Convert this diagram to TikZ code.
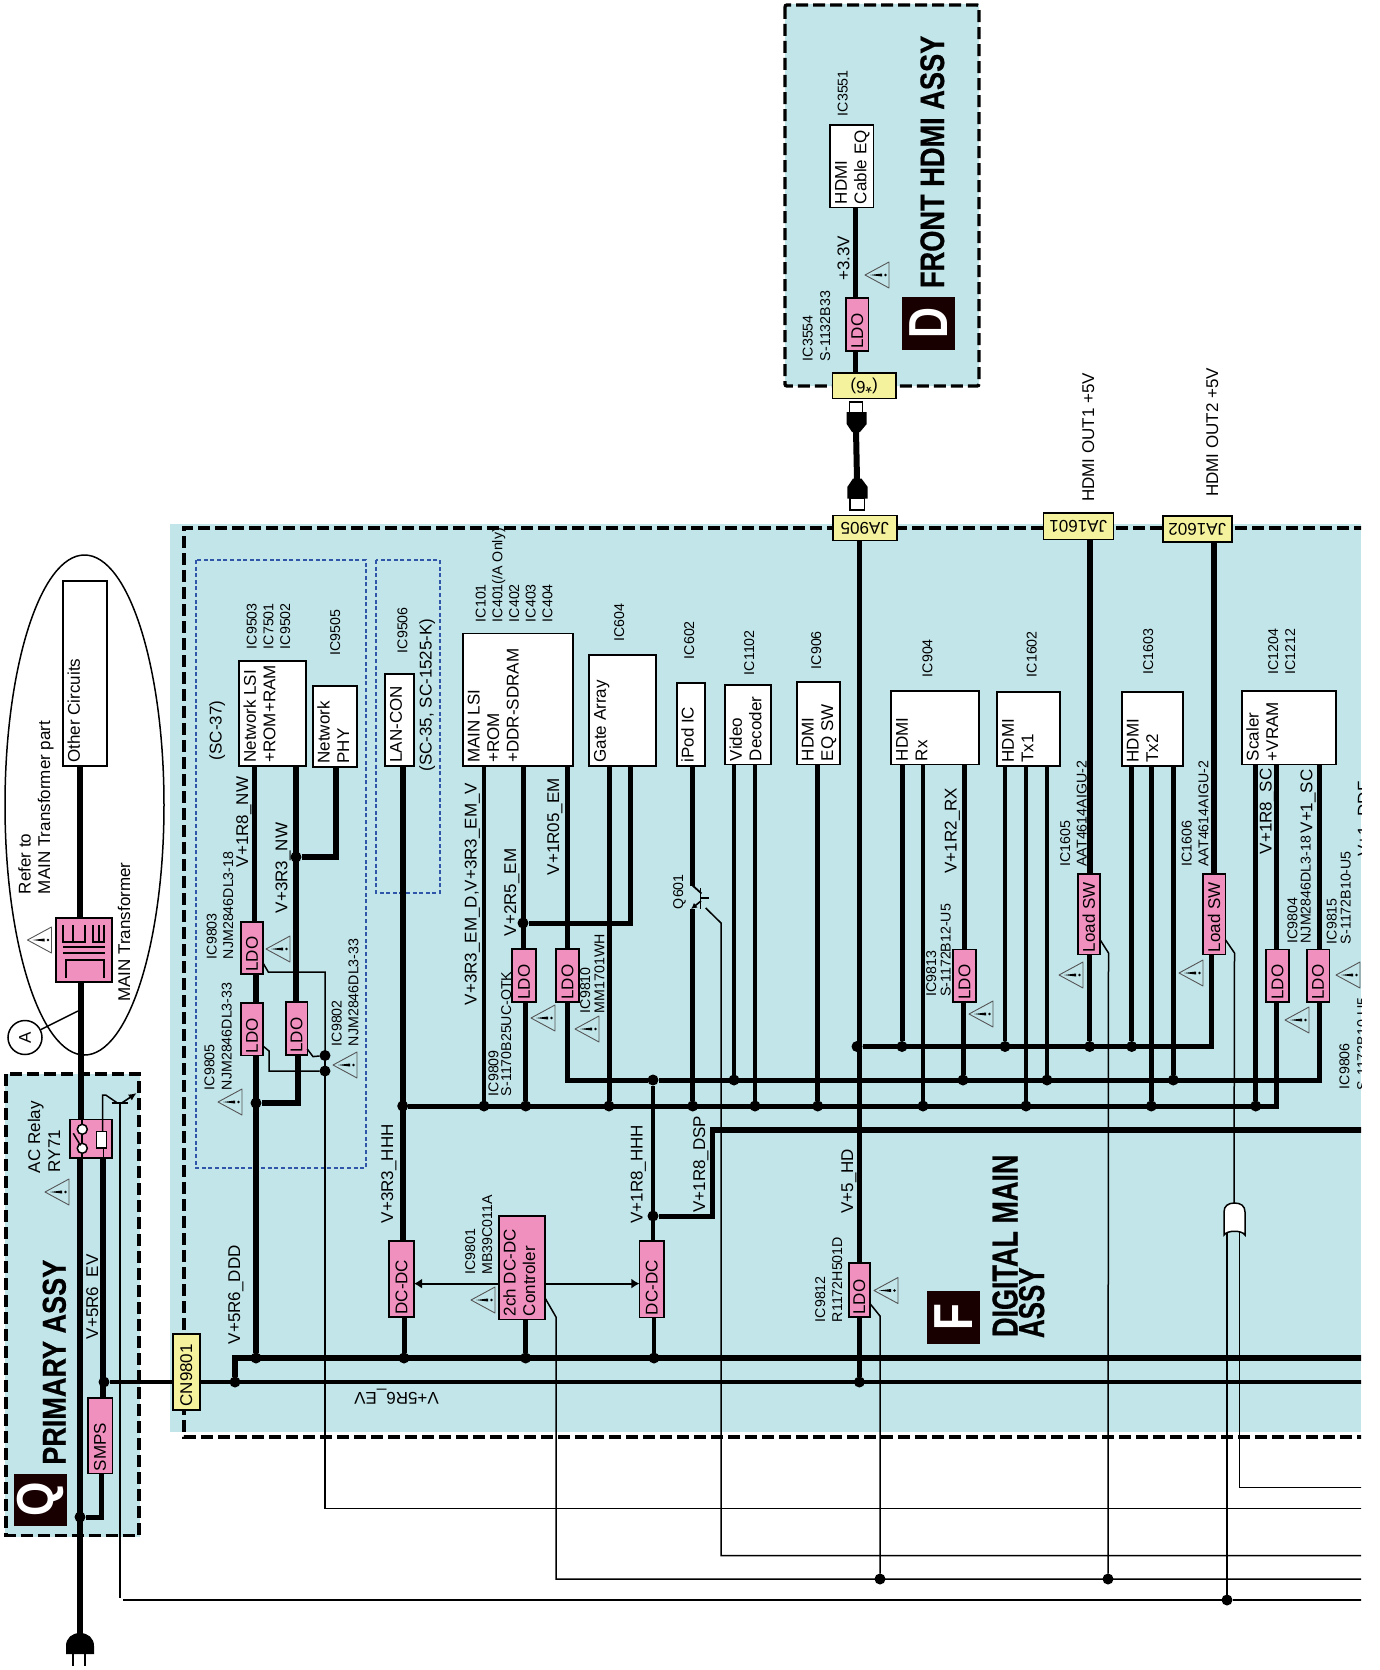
\documentclass[tikz,border=0pt]{standalone}
\usepackage{fontspec}
\setmainfont{Liberation Sans}
\newfontfamily\titlefont{Liberation Sans}[UprightFont=* Bold,FakeBold=0.6]
\usetikzlibrary{arrows.meta}
\definecolor{assyteal}{HTML}{C2E5EA}
\definecolor{ldopink}{HTML}{F090BE}
\definecolor{connyellow}{HTML}{F5F29E}
\definecolor{optblue}{HTML}{2F56A8}
\definecolor{warngray}{HTML}{555555}
\newcommand{\boxtxt}[3]{\rotatebox{90}{\parbox[c][#2pt][t]{#1pt}{\raggedright\leftskip=3.5pt\relax\leavevmode\rule{0pt}{16.8pt}\ignorespaces#3}}}
\newcommand{\pinktxt}[2]{\rotatebox{90}{\makebox[#1pt][l]{\hspace{2.5pt}#2}}}
\newcommand{\condtxt}[2]{\scalebox{#1}[1]{#2}}
\tikzset{
  t17/.style={font=\fontsize{17}{19.5}\selectfont},
  t14/.style={font=\fontsize{14.2}{16}\selectfont},
  boxbase/.style={draw=black,line width=1.6pt,inner sep=0pt,outer sep=0pt,t17},
  icbox/.style={boxbase,fill=white},
  pinkbox/.style={boxbase,fill=ldopink},
  connbox/.style={boxbase,fill=connyellow},
  logobox/.style={fill=black!90!red,inner sep=0pt,outer sep=0pt,text=white},
  dotn/.style={circle,fill=black,inner sep=0pt,outer sep=0pt,minimum size=11pt},
  lab/.style={rotate=90,anchor=base west,inner sep=0pt,outer sep=0pt,t17},
  labs/.style={rotate=90,anchor=base west,inner sep=0pt,outer sep=0pt,t14},
  pw/.style={line width=5pt},
  bus/.style={line width=6pt},
  busthin/.style={line width=3.6pt},
  sig/.style={line width=1.5pt},
  ctlarrow/.style={line width=1.8pt,-{Latex[length=8pt,width=10pt]}},
  assyframe/.style={draw=black,line width=3.4pt,dash pattern=on 12pt off 5pt},
  optframe/.style={draw=optblue,line width=1.4pt,dash pattern=on 4pt off 2.6pt},
  warntri/.pic={
    \draw[warngray,line width=0.9pt,line join=round] (-12,0) -- (12,-13) -- (12,13) -- cycle;
    \fill[black] (-7,0) -- (5,-1.5) -- (5,1.5) -- cycle;
    \fill[black] (8.5,0) circle (1.4pt);
  }
}
\begin{document}
\begin{tikzpicture}[x=1pt,y=-1pt]
\useasboundingbox (0,0) rectangle (1380,1670);
\begin{scope}
\clip (0,0) rectangle (1361,1670);
% assemblies
\fill[assyteal] (170,524) rectangle (1361,1431.6);
\fill[assyteal] (5,1073.6) rectangle (140,1536.6);
\fill[assyteal,rounded corners=2pt] (785,4) rectangle (979,386);
\draw[assyframe] (1400,528) -- (184,528) -- (184,1437) -- (1400,1437);
\draw[assyframe] (6,1074) rectangle (139,1535.5);
\draw[assyframe,rounded corners=2pt] (785,5) rectangle (979,386);
\draw[optframe] (196,560) rectangle (366,1168);
\draw[optframe] (376,560) rectangle (440,893);
\draw[line width=1.5pt] (84.5,805) ellipse [x radius=79.5pt,y radius=250pt];
% ICs
\node[icbox,minimum width=44pt,minimum height=185pt] (other) at (85,673.5) {\boxtxt{185}{44}{Other Circuits}};
\node[icbox,minimum width=67pt,minimum height=105pt] (nlsi) at (272.5,713.5) {\boxtxt{105}{67}{Network LSI\\+ROM+RAM}};
\node[icbox,minimum width=44.3pt,minimum height=81pt] (nphy) at (334.85,726.5) {\boxtxt{81}{44.3}{Network\\PHY}};
\node[icbox,minimum width=29pt,minimum height=92pt] (lancon) at (399.5,720) {\boxtxt{92}{29}{LAN-CON}};
\node[icbox,minimum width=110pt,minimum height=132.6pt] (mainlsi) at (517.7,699.7) {\boxtxt{132.6}{110}{MAIN LSI\\+ROM\\+DDR-SDRAM}};
\node[icbox,minimum width=67pt,minimum height=111pt] (gate) at (622.5,710.5) {\boxtxt{111}{67}{Gate Array}};
\node[icbox,minimum width=28.3pt,minimum height=83pt] (ipod) at (690.85,724.5) {\boxtxt{83}{28.3}{iPod IC}};
\node[icbox,minimum width=45.7pt,minimum height=79.5pt] (video) at (747.85,724.75) {\boxtxt{79.5}{45.7}{Video\\Decoder}};
\node[icbox,minimum width=43.3pt,minimum height=82.5pt] (eqsw) at (818.35,723.25) {\boxtxt{82.5}{43.3}{HDMI\\EQ SW}};
\node[icbox,minimum width=88pt,minimum height=73.5pt] (rx) at (935,727.75) {\boxtxt{73.5}{88}{HDMI\\Rx}};
\node[icbox,minimum width=62.7pt,minimum height=74pt] (txa) at (1028.35,729) {\boxtxt{74}{62.7}{HDMI\\Tx1}};
\node[icbox,minimum width=61.3pt,minimum height=74pt] (txb) at (1152.35,729) {\boxtxt{74}{61.3}{HDMI\\Tx2}};
\node[icbox,minimum width=94pt,minimum height=73.5pt] (scaler) at (1288.7,727.75) {\boxtxt{73.5}{94}{Scaler\\+VRAM}};
\node[icbox,minimum width=43.3pt,minimum height=82.9pt] (cableeq) at (851.65,166.15) {\boxtxt{82.9}{43.3}{HDMI\\Cable EQ}};
% pink blocks
\node[pinkbox,minimum width=56pt,minimum height=64pt] (xfmr) at (83.7,950) {};
\node[pinkbox,minimum width=22pt,minimum height=52pt] (ldoa) at (252,948) {\pinktxt{52}{LDO}};
\node[pinkbox,minimum width=22pt,minimum height=52.5pt] (ldob) at (252,1029.25) {\pinktxt{52.5}{LDO}};
\node[pinkbox,minimum width=21.6pt,minimum height=53pt] (ldoc) at (296.5,1028.5) {\pinktxt{53}{LDO}};
\node[pinkbox,minimum width=24pt,minimum height=53pt] (ldod) at (524,975.5) {\pinktxt{53}{LDO}};
\node[pinkbox,minimum width=23pt,minimum height=53pt] (ldoe) at (567.5,975.5) {\pinktxt{53}{LDO}};
\node[pinkbox,minimum width=23pt,minimum height=52.4pt] (ldof) at (964.5,975.8) {\pinktxt{52.4}{LDO}};
\node[pinkbox,minimum width=23pt,minimum height=52.4pt] (ldog) at (1277.5,975.8) {\pinktxt{52.4}{LDO}};
\node[pinkbox,minimum width=22.6pt,minimum height=52.4pt] (ldoh) at (1318,975.8) {\pinktxt{52.4}{LDO}};
\node[pinkbox,minimum width=22.3pt,minimum height=53pt] (ldoi) at (857.15,324.5) {\pinktxt{53}{LDO}};
\node[pinkbox,minimum width=21.3pt,minimum height=54pt] (ldoj) at (859.35,1290) {\pinktxt{54}{LDO}};
\node[pinkbox,minimum width=22.3pt,minimum height=80.5pt] (swa) at (1088.85,914.25) {\pinktxt{80.5}{Load SW}};
\node[pinkbox,minimum width=22.6pt,minimum height=80.5pt] (swb) at (1214,914.25) {\pinktxt{80.5}{Load SW}};
\node[pinkbox,minimum width=25pt,minimum height=76pt] (dca) at (401.5,1279) {\pinktxt{76}{DC-DC}};
\node[pinkbox,minimum width=24.6pt,minimum height=76.5pt] (dcb) at (651.7,1279.25) {\pinktxt{76.5}{DC-DC}};
\node[pinkbox,minimum width=46.25pt,minimum height=103.6pt] (ctrl) at (521.9,1267.8) {\boxtxt{103.6}{46.25}{2ch DC-DC\\Controler}};
\node[pinkbox,minimum width=24.6pt,minimum height=75.6pt] (smps) at (100,1435.8) {\pinktxt{75.6}{SMPS}};
\node[pinkbox,minimum width=42pt,minimum height=38.5pt] (relay) at (91,1138.75) {};
% connectors
\node[connbox,minimum width=27.3pt,minimum height=76pt] (cn) at (186.35,1372) {\pinktxt{76}{\hspace{1pt}CN9801}};
\node[connbox,minimum width=63.7pt,minimum height=25pt] (jafive) at (864.85,528) {\rotatebox[origin=c]{180}{JA905}};
\node[connbox,minimum width=70pt,minimum height=26.6pt] (jaa) at (1078.3,526.3) {\rotatebox[origin=c]{180}{JA1601}};
\node[connbox,minimum width=69.3pt,minimum height=26.3pt] (jab) at (1197.35,528.85) {\rotatebox[origin=c]{180}{JA1602}};
\node[connbox,minimum width=63.7pt,minimum height=25.4pt] (jfront) at (864.15,385.7) {\rotatebox[origin=c]{180}{(*6)}};
% logos
\node[logobox,minimum width=52.7pt,minimum height=52.2pt,font=\fontsize{52}{52}\bfseries] (logoq) at (40.35,1499.7) {\rotatebox{90}{\condtxt{0.85}{Q}}};
\node[logobox,minimum width=52.7pt,minimum height=52.7pt,font=\fontsize{55}{55}\bfseries] (logod) at (928.65,323.15) {\rotatebox{90}{\condtxt{0.78}{D}}};
\node[logobox,minimum width=53pt,minimum height=52.6pt,font=\fontsize{55}{55}\bfseries] (logof) at (953.5,1317.3) {\rotatebox{90}{\condtxt{0.8}{F}}};
\node[draw=black,line width=1.5pt,fill=white,circle,minimum size=34pt,inner sep=0pt,t17] (marka) at (25,1037.5) {\rotatebox{90}{A}};
% junctions
\node[dotn] (ja) at (80,1517) {};
\node[dotn] (jb) at (104,1382) {};
\node[dotn] (jc) at (235,1382) {};
\node[dotn] (jd) at (859.4,1382) {};
\node[dotn] (ea) at (256,1358) {};
\node[dotn] (eb) at (404,1358) {};
\node[dotn] (ec) at (525.6,1358) {};
\node[dotn] (ed) at (654,1358) {};
\node[dotn] (fa) at (402.7,1106) {};
\node[dotn] (fb) at (484,1106) {};
\node[dotn] (fc) at (525.7,1106) {};
\node[dotn] (fd) at (609,1106) {};
\node[dotn] (fe) at (692.7,1106) {};
\node[dotn] (ff) at (755,1106) {};
\node[dotn] (fg) at (817.7,1106) {};
\node[dotn] (fh) at (923,1106) {};
\node[dotn] (fi) at (1026,1106) {};
\node[dotn] (fj) at (1151.3,1106) {};
\node[dotn] (fk) at (1255.7,1106) {};
\node[dotn] (ga) at (653,1080) {};
\node[dotn] (gb) at (734,1080) {};
\node[dotn] (gc) at (963,1080) {};
\node[dotn] (gd) at (1047,1080) {};
\node[dotn] (ge) at (1173.3,1080) {};
\node[dotn] (ha) at (857,1046.5) {};
\node[dotn] (hb) at (902,1046.5) {};
\node[dotn] (hc) at (1005,1046.5) {};
\node[dotn] (hd) at (1089.7,1046.5) {};
\node[dotn] (he) at (1131.7,1046.5) {};
\node[dotn] (ka) at (256,1103) {};
\node[dotn] (kb) at (296,857) {};
\node[dotn] (kc) at (523,923) {};
\node[dotn] (kd) at (325,1055.5) {};
\node[dotn] (ke) at (325,1071) {};
\node[dotn] (kf) at (653,1216) {};
\node[dotn] (ma) at (880,1579) {};
\node[dotn] (mb) at (1108,1579) {};
\node[dotn] (mc) at (1227,1600) {};
% free ends and corners
\coordinate (edgeb) at (1370,1358);
\coordinate (edgec) at (1370,1382);
\coordinate (edged) at (1370,1130);
\coordinate (edgee) at (1370,1487.6);
\coordinate (edgef) at (1370,1508.6);
\coordinate (edgeg) at (1370,1555.6);
\coordinate (edgeh) at (1370,1579);
\coordinate (edgei) at (1370,1600);
\coordinate (dspc) at (712.5,1130);
\coordinate (plugtop) at (80,1634);
\coordinate (aend) at (78,1011);
\coordinate (capn) at (1234,1203);
% mains
\draw[pw,line width=5.5pt] (other.south -| 80,0) -- (xfmr.north -| 80,0);
\draw[pw,line width=5.5pt] (xfmr.south -| 81,0) -- (relay.north -| 81,0);
\draw[pw,line width=6pt] (relay.south -| 80,0) -- (plugtop);
\draw[sig] (marka) -- (aend);
\draw[pw,line width=6pt] (relay.south -| 103.3,0) -- (smps.north -| 103.3,0);
\draw[pw] (smps.south -| 101.3,0) |- (ja);
\draw[busthin] (jb) -- (cn.west |- jb);
\draw[busthin] (cn.east |- jc) -- (edgec);
\draw[bus] (jc) |- (edgeb);
% network block
\draw[pw,line width=5.5pt] (nlsi.south -| 254.5,0) -- (ldoa.north -| 254.5,0);
\draw[pw,line width=6pt] (ldoa.south -| 255.7,0) -- (ldob.north -| 255.7,0);
\draw[pw,line width=6pt] (ldob.south -| 256,0) -- (ea);
\draw[pw,line width=6pt] (nlsi.south -| 296,0) -- (ldoc.north -| 296,0);
\draw[pw,line width=5.5pt] (kb) -| (nphy.south -| 336,0);
\draw[pw,line width=6pt] (ldoc.south -| 297.7,0) |- (ka);
% 3V3 line
\draw[pw,line width=6pt] (lancon.south -| 402.7,0) -- (dca.north -| 402.7,0);
\draw[pw] (dca.south -| 404,0) -- (eb);
\draw[pw] (fa) -| (ldog.south -| 1276.3,0);
% main LSI
\draw[pw,line width=4.5pt] (mainlsi.south -| 484,0) -- (fb);
\draw[pw] (mainlsi.south -| 523,0) -- (ldod.north -| 523,0);
\draw[pw] (kc) -| (gate.south -| 630,0);
\draw[pw] (ldod.south -| 525.7,0) -- (fc);
\draw[pw] (mainlsi.south -| 567,0) -- (ldoe.north -| 567,0);
\draw[pw] (ldoe.south -| 567,0) |- (ga);
\draw[pw] (ga) -| (ldoh.south -| 1319.3,0);
\draw[pw] (gate.south -| 609,0) -- (fd);
\draw[pw] (ipod.south -| 692.7,0) -- (692.7,885.6);
\draw[pw] (692.7,909) -- (fe);
\draw[pw,line width=4.5pt] (video.south -| 734,0) -- (gb);
\draw[pw,line width=4.5pt] (video.south -| 755,0) -- (ff);
\draw[pw,line width=4.5pt] (eqsw.south -| 817.7,0) -- (fg);
% transistor Q601
\draw[line width=1.8pt] (692.7,885.6) -- (701.5,893.5);
\draw[line width=1.8pt] (700.5,888) -- (700.5,909);
\draw[line width=1.8pt] (700.5,898) -- (709,898);
\draw[line width=1.6pt,-{Latex[length=6pt,width=6pt]}] (701,901) -- (691,909);
\draw[sig] (705.7,908) -- (721,923) |- (edgeg);
% DC-DC
\draw[line width=4.5pt] (ctrl.south -| 525.6,0) -- (ec);
\draw[line width=4.5pt] (dcb.south -| 654,0) -- (ed);
\draw[ctlarrow] (ctrl.west |- 0,1283.6) -- (dca.east |- 0,1283.6);
\draw[ctlarrow] (ctrl.east |- 0,1283.6) -- (dcb.west |- 0,1283.6);
\draw[line width=4pt] (dcb.north -| 653,0) -- (ga);
\draw[line width=5pt] (kf) -| (dspc);
\draw[line width=6pt] (710,1130) -- (edged);
% HD
\draw[pw,line width=5.5pt] (jafive.south -| 859.4,0) -- (ldoj.north -| 859.4,0);
\draw[pw] (ldoj.south -| 859.4,0) -- (jd);
\draw[pw] (ha) -| (swb.south -| 1211.7,0);
\draw[pw] (rx.south -| 902,0) -- (hb);
\draw[pw,line width=4.5pt] (rx.south -| 923,0) -- (fh);
\draw[pw] (rx.south -| 964,0) -- (ldof.north -| 964,0);
\draw[pw] (ldof.south -| 963,0) -- (gc);
\draw[pw,line width=4.5pt] (txa.south -| 1005,0) -- (hc);
\draw[pw,line width=4.5pt] (txa.south -| 1026,0) -- (fi);
\draw[pw,line width=4.5pt] (txa.south -| 1047,0) -- (gd);
\draw[pw,line width=4.5pt] (txb.south -| 1131.7,0) -- (he);
\draw[pw,line width=4.5pt] (txb.south -| 1151.3,0) -- (fj);
\draw[pw,line width=4.5pt] (txb.south -| 1173.3,0) -- (ge);
\draw[pw,line width=4.5pt] (scaler.south -| 1255.7,0) -- (fk);
\draw[pw] (scaler.south -| 1276.3,0) -- (ldog.north -| 1276.3,0);
\draw[pw] (scaler.south -| 1319.3,0) -- (ldoh.north -| 1319.3,0);
\draw[pw,line width=6pt] (jaa.south -| 1089.7,0) -- (swa.north -| 1089.7,0);
\draw[pw] (swa.south -| 1089.7,0) -- (hd);
\draw[pw,line width=6pt] (jab.south -| 1213.7,0) -- (swb.north -| 1213.7,0);
% front HDMI
\draw[pw,line width=5.5pt] (cableeq.south -| 855.7,0) -- (ldoi.north -| 855.7,0);
\draw[pw,line width=5.5pt] (ldoi.south -| 855.7,0) -- (jfront.north -| 855.7,0);
\node[draw=black,fill=white,line width=1.4pt,minimum width=13.4pt,minimum height=10.5pt,inner sep=0pt] (jaca) at (856,407.3) {};
\node[draw=black,fill=white,line width=1.4pt,minimum width=14.3pt,minimum height=11.4pt,inner sep=0pt] (jacb) at (857.2,504.3) {};
\fill[black] (846.7,412) -- (866.7,412) -- (866.7,424) -- (860,432) -- (852,432) -- (846.7,424) -- cycle;
\fill[black] (853,478.6) -- (861.5,478.6) -- (867.7,487) -- (867.7,498.6) -- (847.3,498.6) -- (847.3,487) -- cycle;
\draw[pw,line width=6pt] (856,430) -- (857,480);
% control signals
\draw[sig] (ldoa.east |- 0,963) -- (268.3,972) -| (ke);
\draw[sig] (ldob.east |- 0,1046) -- (269,1051) |- (ke);
\draw[sig] (ldoc.east |- 0,1049) -- (313,1056.6) -- (kd);
\draw[sig] (kd) -- (325,1508.6) -- (edgef);
\draw[sig] (ctrl.east |- 0,1298) -- (556,1317) |- (edgeh);
\draw[sig] (ldoj.east |- 0,1303.6) -- (880,1316) -- (ma);
\draw[sig] (swa.east |- 0,939.6) -- (1108.5,953) -- (mb);
\draw[sig] (swb.east |- 0,939.6) -- (1234.5,953) -- (capn);
\draw[sig] (mc) -- (1227,1230);
\draw[sig] (1239.4,1230) |- (edgee);
\draw[sig,fill=white] (1224,1235) -- (1224,1212) .. controls (1224,1206) and (1228,1203) .. (1234.5,1203) .. controls (1241,1203) and (1245,1206) .. (1245,1212) -- (1245,1235) .. controls (1242,1230) and (1227,1230) .. (1224,1235) -- cycle;
% relay and its driver
\draw[sig] (102.7,1131) -- (102.7,1095) -- (105.7,1095) -- (116.7,1102.5);
\draw[sig] (111.7,1103) -- (128.3,1103);
\draw[sig] (120,1103) -- (120,1598);
\draw[sig] (123,1600) -- (mc) -- (edgei);
\draw[line width=1.6pt,-{Latex[length=8pt,width=7pt]}] (121.7,1103) -- (136.7,1093);
\draw[line width=1.5pt] (82,1120) -- (82,1158);
\draw[line width=1.5pt] (103.3,1148) -- (relay.south -| 103.3,0);
\draw[line width=1.5pt,fill=white] (82.3,1129.3) circle (5pt);
\draw[line width=1.5pt,fill=white] (82.3,1148.3) circle (5pt);
\draw[line width=1.5pt] (73.3,1133.3) -- (80.5,1145.5);
\draw[line width=1.4pt,fill=white] (96.7,1131.7) rectangle (106.7,1148);
% transformer symbol
\draw[line width=1.8pt] (63.3,925) |- (85,941.7) -- (85,925);
\draw[line width=1.8pt] (73.3,925) -- (73.3,941.7);
\draw[line width=1.8pt] (93.3,925) |- (104.3,941.7) -- (104.3,925);
\draw[line width=1.8pt] (99,925) -- (99,941.7);
\draw[line width=1.8pt] (63,947.3) -- (104.5,947.3);
\draw[line width=1.8pt] (63,953.3) -- (104.5,953.3);
\draw[line width=1.8pt] (66,978) |- (104,960) -- (104,978);
% plug
\fill[black] (66,1654) -- (66,1646) .. controls (66,1638) and (72,1633) .. (80,1633) .. controls (88,1633) and (94,1638) .. (94,1646) -- (94,1654) -- cycle;
\draw[sig] (73,1654) -- (73,1666);
\draw[sig] (85,1654) -- (85,1666);
% warnings
\pic at (39.5,940) {warntri};
\pic at (278,949) {warntri};
\pic at (345,1065) {warntri};
\pic at (230,1102) {warntri};
\pic at (57,1192) {warntri};
\pic at (543,1018) {warntri};
\pic at (587,1029) {warntri};
\pic at (981,1014) {warntri};
\pic at (1071,975) {warntri};
\pic at (1191,973) {warntri};
\pic at (1297,1020) {warntri};
\pic at (1348,975) {warntri};
\pic at (877,275) {warntri};
\pic at (483,1300) {warntri};
\pic at (886,1290.5) {warntri};
% titles
\node[lab,font=\fontsize{33}{33}\titlefont] (tprim) at (65.7,1464.7) {\condtxt{0.82}{PRIMARY ASSY}};
\node[lab,font=\fontsize{34}{34}\titlefont] (tfront) at (944,288) {\condtxt{0.80}{FRONT HDMI ASSY}};
\node[lab,font=\fontsize{36}{36}\titlefont] (tdiga) at (1017.5,1337) {\condtxt{0.75}{DIGITAL MAIN}};
\node[lab,font=\fontsize{36}{36}\titlefont] (tdigb) at (1044,1338) {\condtxt{0.72}{ASSY}};
% labels 17
\node[lab] (la) at (30.7,894) {Refer to};
\node[lab] (lb) at (50,894) {MAIN Transformer part};
\node[lab] (lc) at (130,1001.7) {MAIN Transformer};
\node[lab] (ld) at (40,1173) {AC Relay};
\node[lab] (le) at (60,1172) {RY71};
\node[lab] (lf) at (98,1339) {V+5R6\_EV};
\node[lab] (lg) at (240,1344) {V+5R6\_DDD};
\node[lab] (lh) at (393,1223) {V+3R3\_HHH};
\node[rotate=180,anchor=base west,inner sep=0pt,t17] (lj) at (439,1392.7) {V+5R6\_EV};
\node[lab] (lk) at (221.7,760) {(SC-37)};
\node[lab] (ll) at (431.7,771.5) {(SC-35, SC-1525-K)};
\node[lab] (lm) at (248,867) {V+1R8\_NW};
\node[lab] (ln) at (287.3,913) {V+3R3\_NW};
\node[lab] (lo) at (476.7,1005) {V+3R3\_EM\_D,V+3R3\_EM\_V};
\node[lab] (lp) at (516,936) {V+2R5\_EM};
\node[lab] (lq) at (559,875) {V+1R05\_EM};
\node[lab] (lr) at (956.7,873.4) {V+1R2\_RX};
\node[lab] (ls) at (1094,501.8) {HDMI OUT1 +5V};
\node[lab] (lt) at (1218,496.8) {HDMI OUT2 +5V};
\node[lab] (lu) at (1271.7,854) {V+1R8\_SC};
\node[lab] (lv) at (1312.3,833.3) {V+1\_SC};
\node[lab] (lw) at (1369.6,856.7) {V+1\_DDF};
\node[lab] (lx) at (849.3,280.6) {+3.3V};
\node[lab] (ly) at (642.5,1223.6) {V+1R8\_HHH};
\node[lab] (lz) at (705,1212.7) {V+1R8\_DSP};
\node[lab] (lza) at (853,1213.5) {V+5\_HD};
% labels 14
\node[labs] (sa) at (256.7,649) {IC9503};
\node[labs] (sb) at (273.3,649) {IC7501};
\node[labs] (sc) at (290,649) {IC9502};
\node[labs] (sd) at (340,655.6) {IC9505};
\node[labs] (se) at (407.3,653) {IC9506};
\node[labs] (sf) at (216.7,959) {IC9803};
\node[labs] (sg) at (233,959) {NJM2846DL3-18};
\node[labs] (sh) at (214.3,1090) {IC9805};
\node[labs] (si) at (231.7,1090) {NJM2846DL3-33};
\node[labs] (sj) at (341.7,1046) {IC9802};
\node[labs] (sk) at (358.3,1046) {NJM2846DL3-33};
\node[labs] (sl) at (485.7,622) {IC101};
\node[labs] (sm) at (502.3,622) {IC401(/A Only)};
\node[labs] (sn) at (519,622) {IC402};
\node[labs] (so) at (535.7,622) {IC403};
\node[labs] (sp) at (552.3,622) {IC404};
\node[labs] (sq) at (624,641.7) {IC604};
\node[labs] (sr) at (694,659) {IC602};
\node[labs] (ss) at (754,675) {IC1102};
\node[labs] (st) at (821,669) {IC906};
\node[labs] (su) at (498.3,1096) {IC9809};
\node[labs] (sv) at (511,1096) {S-1170B25UC-OTK};
\node[labs] (sw) at (590,1013) {IC9810};
\node[labs] (sx) at (604.3,1013) {MM1701WH};
\node[labs] (sy) at (683,909) {Q601};
\node[labs] (sz) at (932.3,677) {IC904};
\node[labs] (ua) at (1036.7,677) {IC1602};
\node[labs] (ub) at (1153,674.4) {IC1603};
\node[labs] (uc) at (1278,674.4) {IC1204};
\node[labs] (ud) at (1295,674.4) {IC1212};
\node[labs] (ue) at (936,996.8) {IC9813};
\node[labs] (uf) at (950.7,996.8) {S-1172B12-U5};
\node[labs] (ug) at (1070,866.5) {IC1605};
\node[labs] (uh) at (1086.7,866.5) {AAT4614AIGU-2};
\node[labs] (ui) at (1191.7,866.5) {IC1606};
\node[labs] (uj) at (1208.3,866.5) {AAT4614AIGU-2};
\node[labs] (uk) at (1297.3,943.3) {IC9804};
\node[labs] (ul) at (1310.7,943.3) {NJM2846DL3-18};
\node[labs] (um) at (1336.7,944) {IC9815};
\node[labs] (un) at (1350.7,944) {S-1172B10-U5};
\node[labs] (uo) at (1349.3,1089) {IC9806};
\node[labs] (up) at (1367,1090) {S-1172B10-U5};
\node[labs] (uq) at (847.7,116) {IC3551};
\node[labs] (ur) at (812.7,361) {IC3554};
\node[labs] (us) at (830,361) {S-1132B33};
\node[labs] (ut) at (475,1274.5) {IC9801};
\node[labs] (uu) at (492,1274.5) {MB39C011A};
\node[labs] (uv) at (825,1322) {IC9812};
\node[labs] (uw) at (842,1322) {R1172H501D};
\end{scope}
\end{tikzpicture}
\end{document}
